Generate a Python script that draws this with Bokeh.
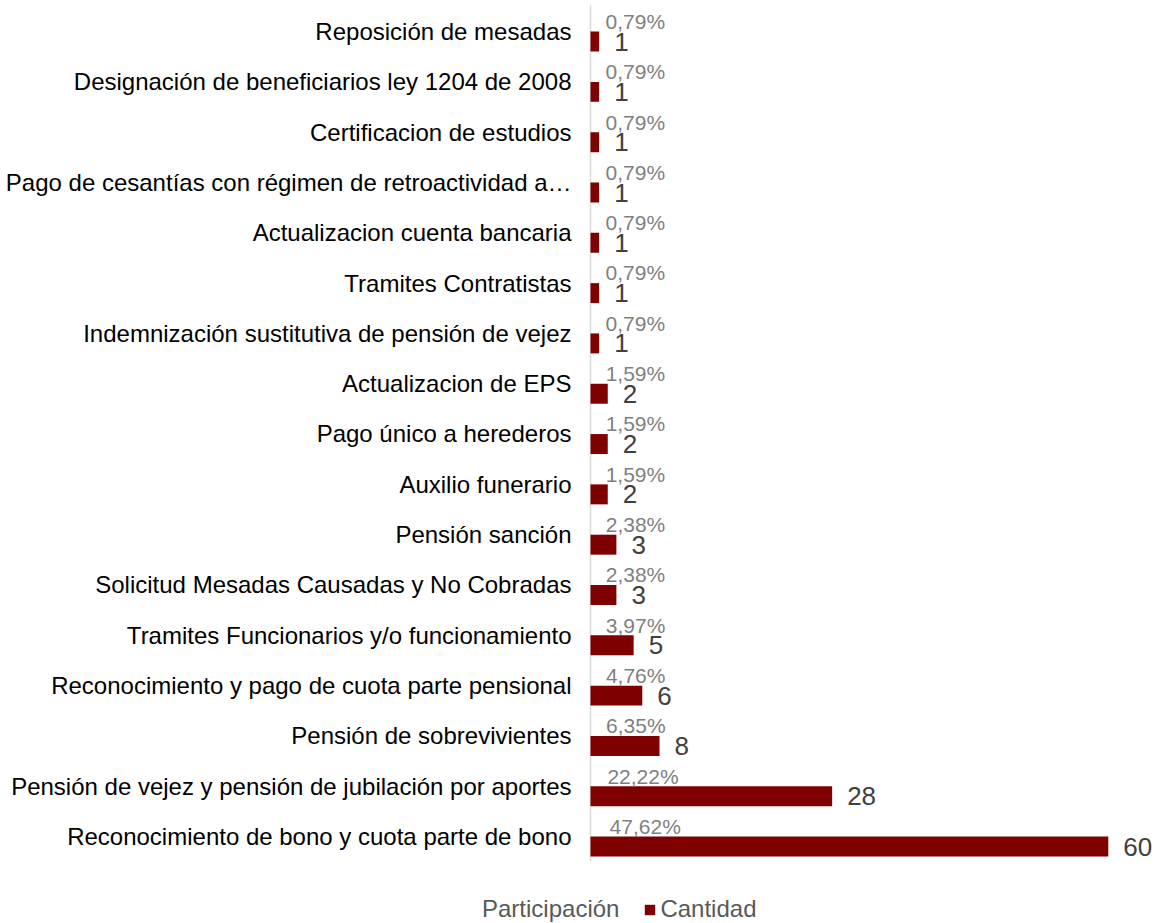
from bokeh.plotting import figure
from bokeh.models import ColumnDataSource, Range1d, Legend, LegendItem
from bokeh.transform import dodge
from bokeh.core.properties import value
from bokeh.embed import file_html
from bokeh.resources import INLINE

categories = [
    "Reposición de mesadas",
    "Designación de beneficiarios ley 1204 de 2008",
    "Certificacion de estudios",
    "Pago de cesantías con régimen de retroactividad a…",
    "Actualizacion cuenta bancaria",
    "Tramites Contratistas",
    "Indemnización sustitutiva de pensión de vejez",
    "Actualizacion de EPS",
    "Pago único a herederos",
    "Auxilio funerario",
    "Pensión sanción",
    "Solicitud Mesadas Causadas y No Cobradas",
    "Tramites Funcionarios y/o funcionamiento",
    "Reconocimiento y pago de cuota parte pensional",
    "Pensión de sobrevivientes",
    "Pensión de vejez y pensión de jubilación por aportes",
    "Reconocimiento de bono y cuota parte de bono",
]
cantidad = [1, 1, 1, 1, 1, 1, 1, 2, 2, 2, 3, 3, 5, 6, 8, 28, 60]
participacion = [0.0079, 0.0079, 0.0079, 0.0079, 0.0079, 0.0079, 0.0079,
                 0.0159, 0.0159, 0.0159, 0.0238, 0.0238, 0.0397, 0.0476,
                 0.0635, 0.2222, 0.4762]

n = len(categories)
ypos = [n - 1 - i for i in range(n)]
src = ColumnDataSource(dict(
    y=ypos,
    cat=categories,
    cantidad=cantidad,
    participacion=participacion,
    cant_label=[str(v) for v in cantidad],
    part_label=[("%.2f%%" % (v * 100)).replace(".", ",") for v in participacion],
))

FONT = "Liberation Sans"
BAR = "#7F0000"

# pixel layout: 8.63 px per unit on x, 50.31 px per category band on y
X0 = -590 / 8.63
X1 = 568 / 8.63
Y1 = (n - 1) + 31 / 50.31
Y0 = -(923 - 836) / 50.31

p = figure(frame_width=1158, frame_height=923, min_border=0,
           x_range=Range1d(X0, X1), y_range=Range1d(Y0, Y1),
           output_backend="svg", toolbar_location=None)
p.outline_line_color = None
p.xgrid.visible = False
p.ygrid.visible = False
p.xaxis.visible = False
p.yaxis.visible = False

# category axis line and labels
p.segment(x0=0, y0=-0.5, x1=0, y1=(n - 1) + 0.52, line_color="#D9D9D9", line_width=1.5)
p.text(x=0, y="y", text="cat", source=src, x_offset=-19,
       text_align="right", text_baseline="middle",
       text_font=value(FONT), text_font_size="24px", text_color="#000000")

r_part = p.hbar(y=dodge("y", 0.2), right="participacion", left=0, height=0.397,
                source=src, fill_alpha=0, line_alpha=0)
r_cant = p.hbar(y=dodge("y", -0.2), right="cantidad", left=0, height=0.397,
                source=src, fill_color=BAR, line_color=None)

p.text(x="participacion", y=dodge("y", 0.2), text="part_label", source=src,
       x_offset=15, text_align="left", text_baseline="middle",
       text_font=value(FONT), text_font_size="21px", text_color="#7F7F7F")
p.text(x="cantidad", y=dodge("y", -0.2), text="cant_label", source=src,
       x_offset=15, text_align="left", text_baseline="middle",
       text_font=value(FONT), text_font_size="26px", text_color="#404040")

legend = Legend(items=[LegendItem(label="Participación", renderers=[r_part]),
                       LegendItem(label="Cantidad", renderers=[r_cant])],
                orientation="horizontal", location=(465, 0),
                glyph_width=13, glyph_height=13, label_standoff=4, spacing=24,
                padding=0, margin=0, border_line_color=None,
                background_fill_alpha=0,
                label_text_font=FONT, label_text_font_size="24px",
                label_text_color="#595959", label_height=24)
p.add_layout(legend)

open("out.html", "w").write(file_html(p, INLINE))
